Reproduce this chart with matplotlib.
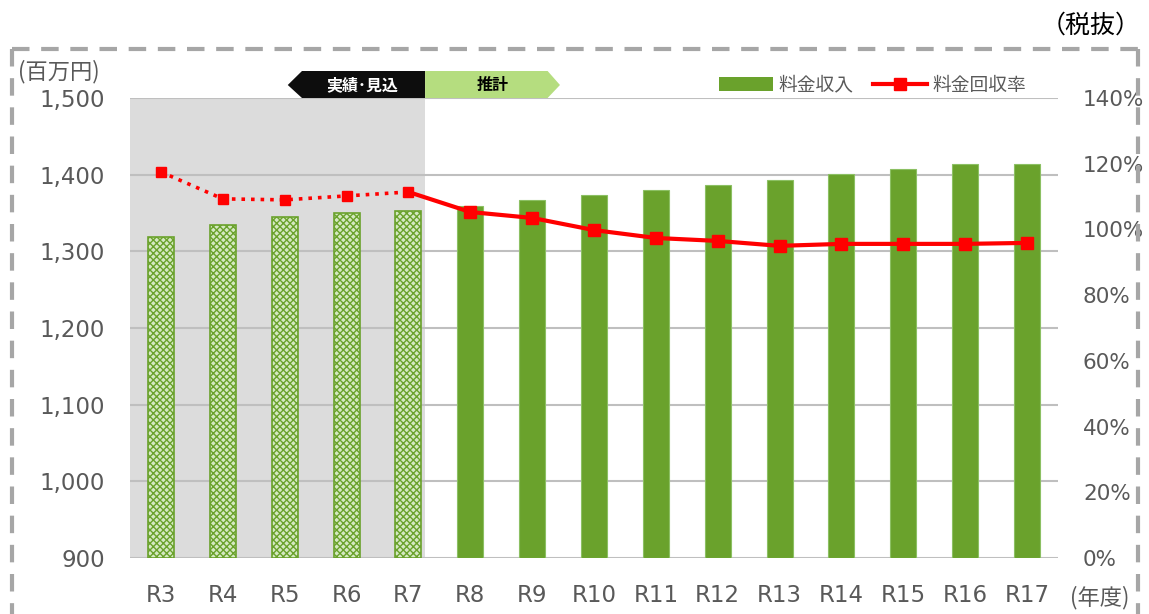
import matplotlib
matplotlib.use("Agg")
import matplotlib.pyplot as plt
from matplotlib.patches import Polygon, Patch
from matplotlib.lines import Line2D
import matplotlib.transforms as mtransforms
from matplotlib.ticker import FuncFormatter, PercentFormatter

plt.rcParams['font.family'] = ['DejaVu Sans', 'Noto Sans CJK JP']
plt.rcParams['hatch.linewidth'] = 1.0

years = ["R3", "R4", "R5", "R6", "R7", "R8", "R9", "R10", "R11", "R12",
         "R13", "R14", "R15", "R16", "R17"]
revenue = [1319, 1334, 1345, 1350, 1352, 1359, 1367, 1373, 1380, 1387,
           1393, 1401, 1407, 1414, 1414]
recovery = [117.5, 109.3, 109.0, 110.2, 111.4, 105.3, 103.5, 99.8, 97.4,
            96.5, 95.0, 95.6, 95.6, 95.6, 95.9]
n_actual = 5  # R3–R7: 実績・見込

GREEN = '#6aa22c'
RED = '#ff0000'
GRAY_TXT = '#595959'
JP = ['Noto Sans CJK JP', 'DejaVu Sans']

fig = plt.figure(figsize=(11.49, 6.14), dpi=100)
W, H = 1149, 614
ax = fig.add_axes([130 / W, (H - 558) / H, (1058 - 130) / W, 460 / H])

x = list(range(len(years)))
ax.axvspan(-0.5, 4.27, color='#dcdcdc', zorder=0, lw=0)

for i, (xi, v) in enumerate(zip(x, revenue)):
    if i < n_actual:
        ax.bar(xi, v - 900, bottom=900, width=0.42, facecolor='#d5e9c2',
               edgecolor='#6aa22c', hatch='xxxxx', linewidth=1.2, zorder=2)
    else:
        ax.bar(xi, v - 900, bottom=900, width=0.42, color=GREEN,
               edgecolor='#8cc063', linewidth=0.8, zorder=2)

ax.set_xlim(-0.5, len(years) - 0.5)
ax.set_ylim(900, 1500)
ax.set_yticks(range(900, 1501, 100))
ax.yaxis.set_major_formatter(FuncFormatter(lambda v, p: f"{int(v):,}"))
ax.grid(axis='y', color='#bfbfbf', linewidth=1.5, zorder=1)
ax.set_axisbelow(True)
for s in ax.spines.values():
    s.set_visible(False)
ax.set_xticks(x)
ax.set_xticklabels(years)
ax.tick_params(axis='both', length=0, labelsize=16.5, colors=GRAY_TXT)
ax.tick_params(axis='y', pad=18)
ax.tick_params(axis='x', pad=19)

ax2 = ax.twinx()
ax2.set_ylim(0, 140)
ax2.set_yticks(range(0, 141, 20))
ax2.yaxis.set_major_formatter(PercentFormatter(decimals=0))
ax2.tick_params(axis='y', length=0, labelsize=15.5, colors=GRAY_TXT, pad=18)
for s in ax2.spines.values():
    s.set_visible(False)
ax2.plot(x[:n_actual], recovery[:n_actual], color=RED, linestyle=':',
         linewidth=2.6, marker='s', markersize=7, zorder=5)
ax2.plot(x[n_actual - 1:], recovery[n_actual - 1:], color=RED, linestyle='-',
         linewidth=3, zorder=5)
ax2.plot(x[n_actual:], recovery[n_actual:], color=RED, linestyle='none',
         marker='s', markersize=9, zorder=6)

# banner arrows
trans = mtransforms.blended_transform_factory(ax.transData, ax.transAxes)
yt, yb, ym = 1 + 27 / 460, 1.0, 1 + 13 / 460
black = Polygon([(2.05, ym), (2.28, yt), (4.27, yt), (4.27, yb), (2.28, yb)],
                closed=True, transform=trans, facecolor='#0d0d0d',
                edgecolor='none', clip_on=False, zorder=10)
green = Polygon([(4.27, yt), (6.25, yt), (6.45, ym), (6.25, yb), (4.27, yb)],
                closed=True, transform=trans, facecolor='#b5dd7f',
                edgecolor='none', clip_on=False, zorder=10)
ax.add_patch(black)
ax.add_patch(green)
ax.text(3.25, ym, "実績･見込", transform=trans, ha='center', va='center',
        color='white', fontsize=11.5, fontweight='bold', family=JP, zorder=11)
ax.text(5.36, ym, "推計", transform=trans, ha='center', va='center',
        color='black', fontsize=11.5, fontweight='bold', family=JP, zorder=11)

# legend
handles = [Patch(facecolor=GREEN, edgecolor='none'),
           Line2D([0], [0], color=RED, linewidth=3, marker='s', markersize=9)]
leg = fig.legend(handles, ["料金収入", "料金回収率"], loc='center left',
                 bbox_to_anchor=(702 / W, 1 - 85 / H), ncol=2, frameon=False,
                 prop={'family': JP, 'size': 13.5}, handlelength=2.9,
                 handleheight=0.85, columnspacing=1.0, handletextpad=0.3)
for t in leg.get_texts():
    t.set_color(GRAY_TXT)

# annotations
fig.text(18 / W, 1 - 72 / H, "(百万円)", ha='left', va='center',
         fontsize=16, color=GRAY_TXT, family=JP)
fig.text(1100 / W, 1 - 598 / H, "(年度)", ha='center', va='center',
         fontsize=16, color=GRAY_TXT, family=JP)
fig.text(1141 / W, 1 - 26 / H, "（税抜）", ha='right', va='center',
         fontsize=18, color='black', family=JP)

# dashed border
dash_kw = dict(color='#a6a6a6', linewidth=3, linestyle=(0, (4.2, 2.8)))
bx0, bx1, by0 = 12 / W, 1138 / W, 1 - 49 / H
fig.add_artist(Line2D([bx0, bx1], [by0, by0], transform=fig.transFigure, **dash_kw))
fig.add_artist(Line2D([bx0, bx0], [by0, -0.02], transform=fig.transFigure, **dash_kw))
fig.add_artist(Line2D([bx1, bx1], [by0, -0.02], transform=fig.transFigure, **dash_kw))

fig.savefig("out.png", dpi=100)
